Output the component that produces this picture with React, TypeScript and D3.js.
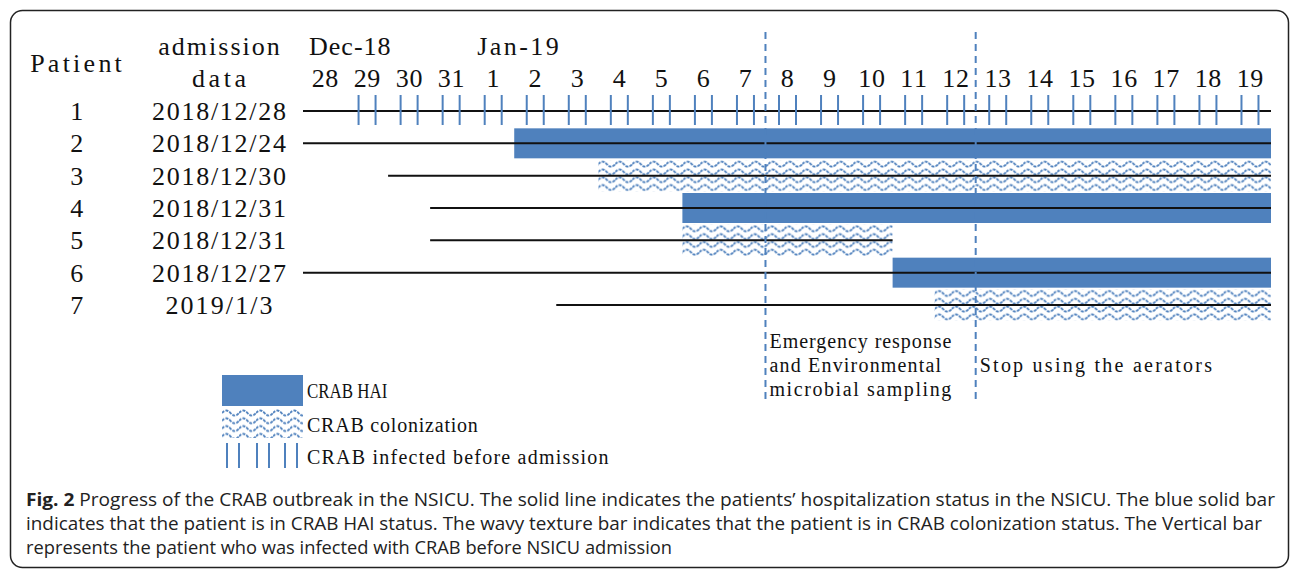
import React, { useRef, useEffect } from "react";
import * as d3 from "d3";

const WIDTH = 1290;
const HEIGHT = 569;
const BLUE = "#4f81bd";
const SERIF = "'Liberation Serif', 'DejaVu Serif', serif";
const SANS = "'Open Sans', 'Noto Sans', sans-serif";

// timeline columns (one per day)
const dayKeys = [
  "12-28", "12-29", "12-30", "12-31", "01-01", "01-02", "01-03", "01-04",
  "01-05", "01-06", "01-07", "01-08", "01-09", "01-10", "01-11", "01-12",
  "01-13", "01-14", "01-15", "01-16", "01-17", "01-18", "01-19",
];
const dayLabels = [
  "28", "29", "30", "31", "1", "2", "3", "4", "5", "6", "7", "8", "9", "10",
  "11", "12", "13", "14", "15", "16", "17", "18", "19",
];
const monthLabels = ["Dec-18", "Jan-19"];
const monthStartKeys = ["12-28", "01-01"];

// patients
const patients = ["1", "2", "3", "4", "5", "6", "7"];
const admissionDates = [
  "2018/12/28", "2018/12/24", "2018/12/30", "2018/12/31",
  "2018/12/31", "2018/12/27", "2019/1/3",
];
const stayFrom = ["12-28", "12-28", "12-30", "12-31", "12-31", "12-28", "01-03"];
const stayTo = ["01-19", "01-19", "01-19", "01-19", "01-10", "01-19", "01-19"];

// CRAB HAI (solid bar)
const haiPatients = ["2", "4", "6"];
const haiFrom = ["01-02", "01-06", "01-11"];
const haiTo = ["01-19", "01-19", "01-19"];

// CRAB colonization (wavy bar)
const colonPatients = ["3", "5", "7"];
const colonFrom = ["01-04", "01-06", "01-12"];
const colonTo = ["01-19", "01-10", "01-19"];

// CRAB infected before admission (vertical ticks)
const infectedPatients = ["1"];
const infectedFrom = ["12-29"];
const infectedTo = ["01-19"];

// events (dashed lines at the start of the day)
const eventKeys = ["01-08", "01-13"];
const eventTexts = [
  ["Emergency response", "and Environmental", "microbial sampling"],
  ["Stop using the aerators"],
];

const legendLabels = ["CRAB HAI", "CRAB colonization", "CRAB infected before admission"];

const captionLines = [
  "Progress of the CRAB outbreak in the NSICU. The solid line indicates the patients\u2019 hospitalization status in the NSICU. The blue solid bar",
  "indicates that the patient is in CRAB HAI status. The wavy texture bar indicates that the patient is in CRAB colonization status. The Vertical bar",
  "represents the patient who was infected with CRAB before NSICU admission",
];

function App() {
  const svgRef = useRef<SVGSVGElement>(null);

  useEffect(() => {
    const svg = d3.select(svgRef.current);
    svg.selectAll("*").remove();
    const defs = svg.append("defs");

    const x = d3.scaleBand<string>().domain(dayKeys).range([304, 1271]).padding(0);
    const bw = x.bandwidth();
    const xs = (k: string) => x(k) as number;
    const xe = (k: string) => (x(k) as number) + bw;
    const xc = (k: string) => (x(k) as number) + bw / 2;
    const y = d3.scalePoint<string>().domain(patients).range([111, 305]);
    const yr = (p: string) => y(p) as number;

    // monospace-like text (fixed cell width per char)
    const mono = (
      g: any, str: string, px: number, py: number, size: number, cw: number,
      anchor = "start"
    ) => {
      const len = str.length * cw;
      const x0 = anchor === "middle" ? px - len / 2 : px;
      const t = g.append("text")
        .attr("x", x0)
        .attr("y", py)
        .attr("font-family", SERIF)
        .attr("font-size", size)
        .attr("fill", "#111")
        .text(str);
      const natural = (t.node() as SVGTextElement).getComputedTextLength();
      t.attr("textLength", len)
        .attr("lengthAdjust", natural > len ? "spacingAndGlyphs" : "spacing");
    };

    const wavePattern = (id: string, px: number, py: number) => {
      const p = defs
        .append("pattern")
        .attr("id", id)
        .attr("patternUnits", "userSpaceOnUse")
        .attr("x", px)
        .attr("y", py)
        .attr("width", 17)
        .attr("height", 7.8);
      p.append("path")
        .attr("d", "M0,4 Q4.25,-1 8.5,4 T17,4")
        .attr("fill", "none")
        .attr("stroke", BLUE)
        .attr("stroke-width", 1.8)
        .attr("stroke-dasharray", "3,1.2");
    };

    // frame
    svg.append("rect")
      .attr("x", 10.5).attr("y", 10.5)
      .attr("width", 1278).attr("height", 557)
      .attr("rx", 12)
      .attr("fill", "none")
      .attr("stroke", "#222")
      .attr("stroke-width", 1.5);

    // header
    const head = svg.append("g");
    mono(head, "Patient", 76, 72, 26, 13.1, "middle");
    mono(head, "admission", 219, 55, 26, 13.5, "middle");
    mono(head, "data", 219, 87, 26, 13.5, "middle");
    monthLabels.forEach((m, i) => mono(head, m, xs(monthStartKeys[i]) + 5, 55, 26, 13.6));
    dayKeys.forEach((k, i) => mono(head, dayLabels[i], xc(k), 87, 26, 13.3, "middle"));

    // row labels
    patients.forEach((p, i) => {
      mono(head, p, 77, yr(p) + 9, 26, 13.4, "middle");
      mono(head, admissionDates[i], 219, yr(p) + 9, 26, 13.4, "middle");
    });

    // HAI bars
    svg.append("g")
      .selectAll("rect")
      .data(haiPatients)
      .join("rect")
      .attr("x", (p, i) => xs(haiFrom[i]))
      .attr("y", (p) => yr(p) - 15)
      .attr("width", (p, i) => xe(haiTo[i]) - xs(haiFrom[i]))
      .attr("height", 30)
      .attr("fill", BLUE);

    // colonization bars
    colonPatients.forEach((p, i) => {
      const x0 = xs(colonFrom[i]);
      const y0 = yr(p) - 15.5;
      wavePattern(`wave-${p}`, x0, y0);
      svg.append("rect")
        .attr("x", x0)
        .attr("y", y0)
        .attr("width", xe(colonTo[i]) - x0)
        .attr("height", 31.2)
        .attr("fill", `url(#wave-${p})`);
    });

    // stay lines
    svg.append("g")
      .selectAll("line")
      .data(patients)
      .join("line")
      .attr("x1", (p, i) => xs(stayFrom[i]) - (stayFrom[i] === dayKeys[0] ? 1 : 0))
      .attr("x2", (p, i) => xe(stayTo[i]))
      .attr("y1", (p) => yr(p))
      .attr("y2", (p) => yr(p))
      .attr("stroke", "#111")
      .attr("stroke-width", 2);

    // infected-before-admission ticks
    const tickG = svg.append("g");
    infectedPatients.forEach((p, i) => {
      const k0 = dayKeys.indexOf(infectedFrom[i]);
      const k1 = dayKeys.indexOf(infectedTo[i]);
      dayKeys.slice(k0, k1 + 1).forEach((k) => {
        [-8.5, 8.5].forEach((off) => {
          tickG.append("line")
            .attr("x1", xc(k) + off).attr("x2", xc(k) + off)
            .attr("y1", yr(p) - 16).attr("y2", yr(p) + 14)
            .attr("stroke", BLUE)
            .attr("stroke-width", 2);
        });
      });
    });

    // event lines and notes
    eventKeys.forEach((k, i) => {
      const ex = xs(k) - 1;
      svg.append("line")
        .attr("x1", ex).attr("x2", ex)
        .attr("y1", 32).attr("y2", 404)
        .attr("stroke", BLUE)
        .attr("stroke-width", 2)
        .attr("stroke-dasharray", "7,5");
      const lines = eventTexts[i];
      lines.forEach((t, j) => {
        mono(svg, t, ex + 4, 372 - (lines.length - 1) * 12 + j * 24, 20, 10.1);
      });
    });

    // legend
    const lg = svg.append("g");
    lg.append("rect")
      .attr("x", 222).attr("y", 375)
      .attr("width", 81).attr("height", 31)
      .attr("fill", BLUE);
    wavePattern("wave-legend", 222, 409);
    lg.append("rect")
      .attr("x", 222).attr("y", 409)
      .attr("width", 81).attr("height", 29)
      .attr("fill", "url(#wave-legend)");
    [227, 239, 257, 269, 285, 297].forEach((tx) => {
      lg.append("line")
        .attr("x1", tx).attr("x2", tx)
        .attr("y1", 443).attr("y2", 468)
        .attr("stroke", BLUE)
        .attr("stroke-width", 2);
    });
    legendLabels.forEach((t, i) => mono(lg, t, 307, [398, 432, 464][i], 20, 10.05));

    // caption
    const cap = svg.append("g")
      .attr("font-family", SANS)
      .attr("font-size", 17.5)
      .attr("fill", "#222");
    const captionWidths = [1249, 1236, 646];
    captionLines.forEach((t, i) => {
      const txt = cap.append("text")
        .attr("x", 26)
        .attr("y", 506 + i * 24)
        .attr("textLength", captionWidths[i])
        .attr("lengthAdjust", "spacingAndGlyphs");
      if (i === 0) {
        txt.append("tspan").attr("font-weight", "bold").text("Fig. 2 ");
      }
      txt.append("tspan").text(t);
    });
  }, []);

  return (
    <svg
      ref={svgRef}
      width={WIDTH}
      height={HEIGHT}
      style={{ position: "absolute", left: 0, top: 0, background: "#fff" }}
    />
  );
}

export default App;
